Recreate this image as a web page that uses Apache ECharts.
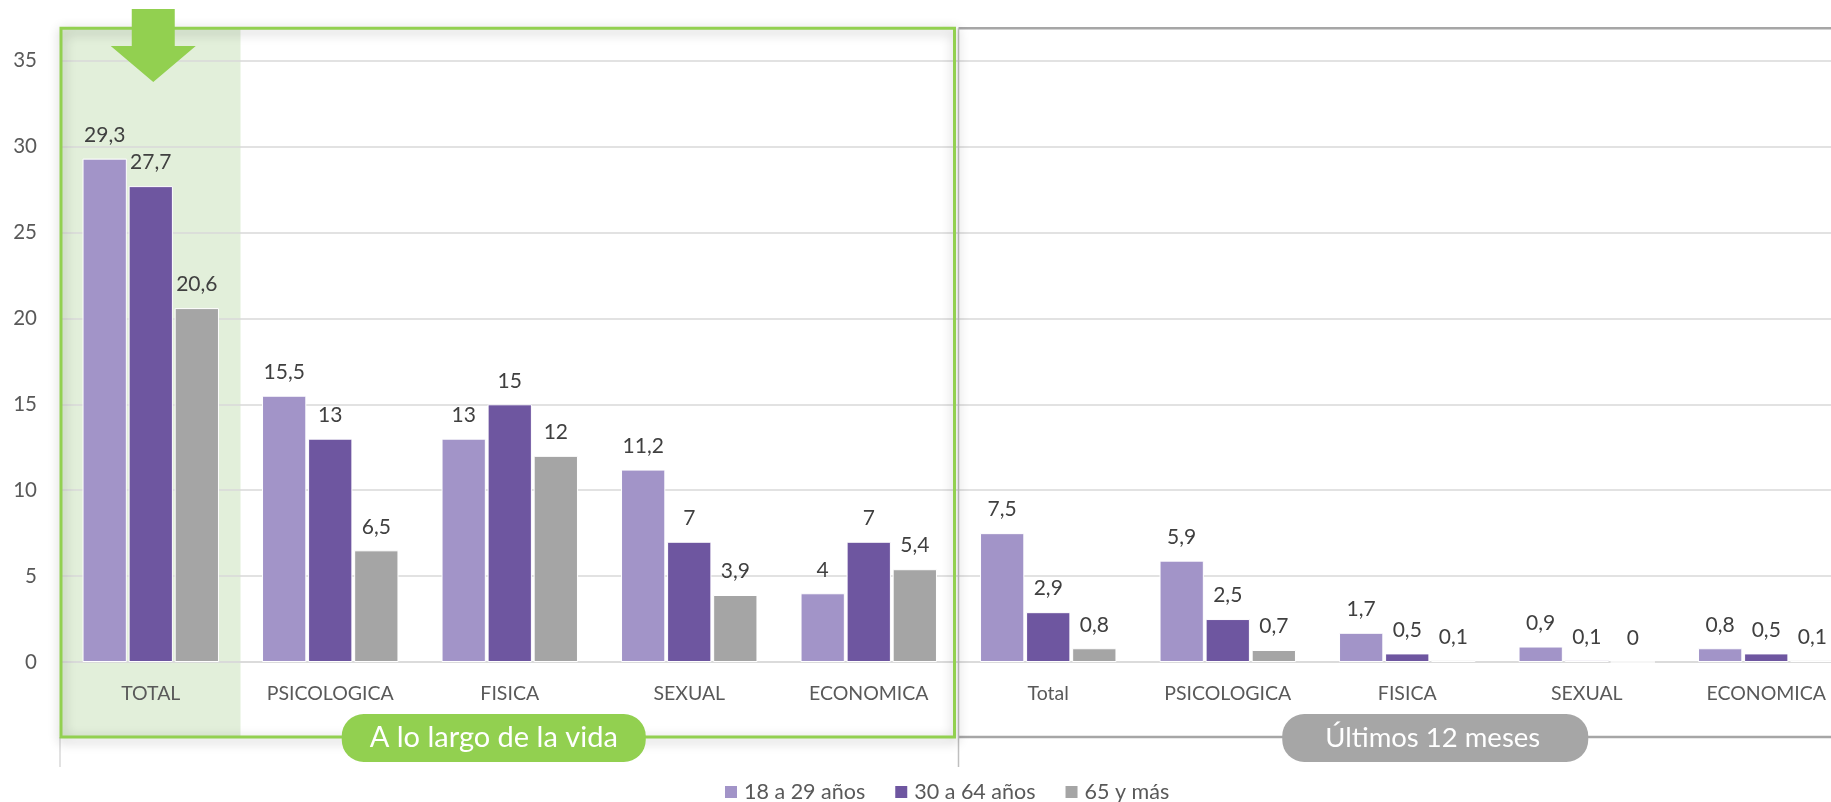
<!DOCTYPE html>
<html><head><meta charset="utf-8">
<script src="https://cdn.jsdelivr.net/npm/echarts@6/dist/echarts.min.js"></script>
<style>html,body{margin:0;padding:0;background:#fff}#c{width:1831px;height:802px}</style>
</head><body><div id="c"></div>
<script>
const categories = ['TOTAL','PSICOLOGICA','FISICA','SEXUAL','ECONOMICA','Total','PSICOLOGICA','FISICA','SEXUAL','ECONOMICA'];
const seriesNames = ['18 a 29 años','30 a 64 años','65 y más'];
const v18_29 = [29.3, 15.5, 13, 11.2, 4, 7.5, 5.9, 1.7, 0.9, 0.8];
const v30_64 = [27.7, 13, 15, 7, 7, 2.9, 2.5, 0.5, 0.1, 0.5];
const v65    = [20.6, 6.5, 12, 3.9, 5.4, 0.8, 0.7, 0.1, 0, 0.1];
const yMin = 0, yMax = 35, yStep = 5;
const groupLabels = ['A lo largo de la vida', 'Últimos 12 meses'];

const FONT = 'Lato';
const colors = ['#A294C8', '#6E56A0', '#A5A5A5'];
const GREEN = '#92D050';
const GRAY = '#A6A6A6';

const chart = echarts.init(document.getElementById('c'), null, {renderer: 'canvas'});

function mkSeries(name, vals, color) {
  return {
    name: name, type: 'bar', data: vals,
    itemStyle: {color: color, borderColor: '#ffffff', borderWidth: 1},
    barGap: '4%', barCategoryGap: '24%',
    label: {
      show: true, position: 'top', distance: 13,
      fontFamily: FONT, fontSize: 21, color: '#404040',
      formatter: p => String(p.value).replace('.', ',')
    },
    z: 3
  };
}

const option = {
  backgroundColor: '#ffffff',
  animation: false,
  textStyle: {fontFamily: FONT},
  grid: {left: 61, right: -25, top: 60.7, bottom: 140, containLabel: false, outerBoundsMode: 'none'},
  xAxis: {
    type: 'category', data: categories,
    axisLine: {show: true, lineStyle: {color: '#D9D9D9', width: 1.5}},
    axisTick: {show: false},
    axisLabel: {fontFamily: FONT, fontSize: 19.5, color: '#595959', margin: 22, interval: 0}
  },
  yAxis: {
    type: 'value', min: yMin, max: yMax, interval: yStep,
    axisLine: {show: false}, axisTick: {show: false},
    splitLine: {lineStyle: {color: '#D9D9D9', width: 1.5}},
    axisLabel: {fontFamily: FONT, fontSize: 20.5, color: '#595959', margin: 24}
  },
  legend: {
    bottom: -1, left: 723, padding: 0, itemWidth: 14, itemHeight: 14, itemGap: 28,
    icon: 'rect',
    textStyle: {fontFamily: FONT, fontSize: 21.5, color: '#595959', padding: [0, 0, 0, 1]},
    data: seriesNames
  },
  series: [
    mkSeries(seriesNames[0], v18_29, colors[0]),
    mkSeries(seriesNames[1], v30_64, colors[1]),
    mkSeries(seriesNames[2], v65, colors[2])
  ]
};
chart.setOption(option);

// decorations derived from the axes
const cx = i => chart.convertToPixel({xAxisIndex: 0}, i);
const cy = v => chart.convertToPixel({yAxisIndex: 0}, v);
const catW = cx(1) - cx(0);
const b0 = cx(0) - catW / 2;
const b1 = cx(0) + catW / 2;
const bSplit = cx(4) + catW / 2;
const yTop = cy(yMax) - 32.5;
const yZero = cy(0);
const yBot = yZero + 75;

const graphics = [
  {type: 'rect', z: -10, silent: true,
   shape: {x: b0, y: yTop, width: b1 - b0, height: yBot - yTop},
   style: {fill: '#E2EFDA'}},
  {type: 'polyline', z: 5, silent: true,
   shape: {points: [[1831 + 10, yTop], [bSplit, yTop]]},
   style: {stroke: GRAY, lineWidth: 2.5, fill: null}},
  {type: 'polyline', z: 5, silent: true,
   shape: {points: [[bSplit, yBot], [1831 + 10, yBot]]},
   style: {stroke: GRAY, lineWidth: 2.5, fill: null}},
  {type: 'line', z: 5, silent: true,
   shape: {x1: bSplit, y1: yTop, x2: bSplit, y2: yBot + 30},
   style: {stroke: '#BFBFBF', lineWidth: 1.5}},
  {type: 'line', z: 5, silent: true,
   shape: {x1: b0 - 1, y1: yBot, x2: b0 - 1, y2: yBot + 30},
   style: {stroke: '#D9D9D9', lineWidth: 1.5}},
  {type: 'rect', z: 6, silent: true,
   shape: {x: b0, y: yTop, width: bSplit - 4 - b0, height: yBot - yTop},
   style: {fill: null, stroke: GREEN, lineWidth: 3,
           shadowBlur: 12, shadowColor: 'rgba(0,0,0,0.32)', shadowOffsetX: 1, shadowOffsetY: 3}},
  {type: 'polygon', z: 7, silent: true,
   shape: {points: [
     [cx(0) - 19, 9], [cx(0) + 24, 9], [cx(0) + 24, 46], [cx(0) + 45, 46],
     [cx(0) + 2.5, 82], [cx(0) - 40, 46], [cx(0) - 19, 46]
   ]},
   style: {fill: GREEN}},
  {type: 'rect', z: 8, silent: true,
   shape: {x: cx(2) - 16 - 152, y: yBot - 23, width: 304, height: 48, r: 22},
   style: {fill: GREEN}},
  {type: 'text', z: 9, silent: true,
   style: {x: cx(2) - 16, y: yBot + 1, text: groupLabels[0], fill: '#ffffff',
           font: '29px ' + FONT, align: 'center', verticalAlign: 'middle'}},
  {type: 'rect', z: 8, silent: true,
   shape: {x: cx(7) + 28 - 153, y: yBot - 23, width: 306, height: 48, r: 22},
   style: {fill: GRAY}},
  {type: 'text', z: 9, silent: true,
   style: {x: cx(7) + 25.5, y: yBot + 1, text: groupLabels[1], fill: '#ffffff',
           font: '27.5px ' + FONT, align: 'center', verticalAlign: 'middle'}}
];
chart.setOption({graphic: graphics});
</script>
</body></html>
